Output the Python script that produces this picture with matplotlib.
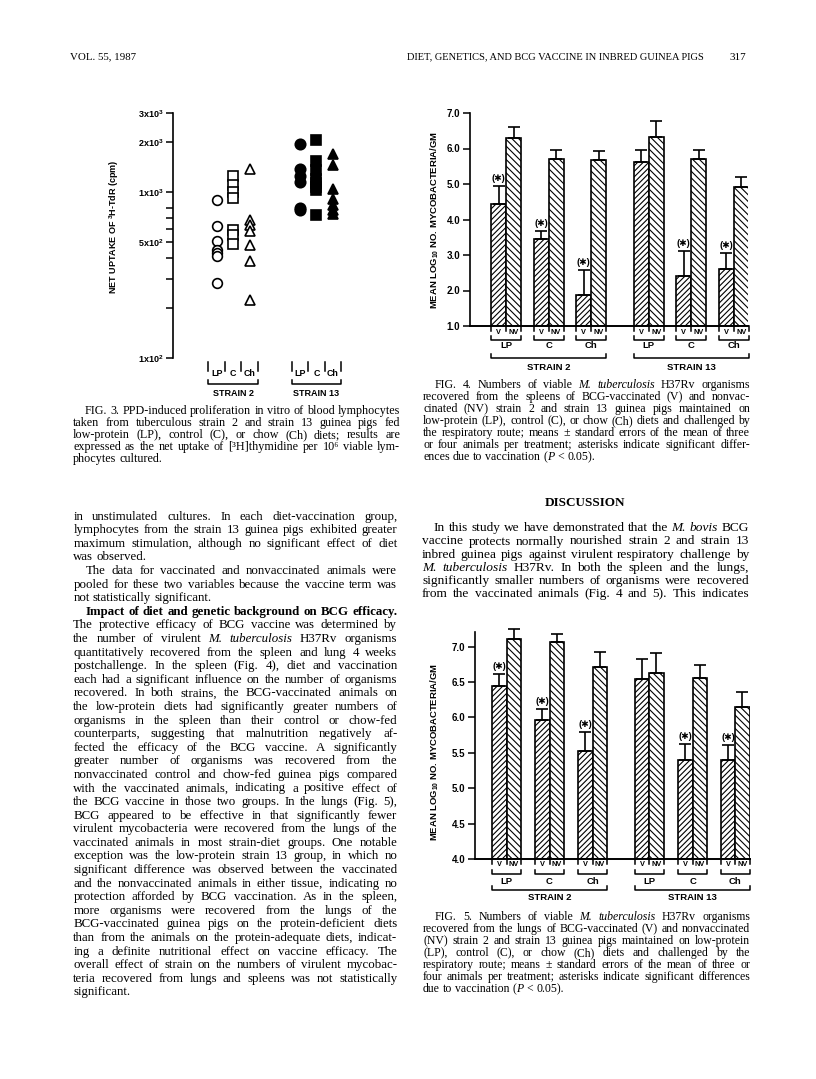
import matplotlib
matplotlib.use("Agg")
import matplotlib.pyplot as plt
from matplotlib.ticker import NullLocator

plt.rcParams['hatch.linewidth'] = 0.8
plt.rcParams['mathtext.fontset'] = 'custom'
plt.rcParams['mathtext.rm'] = 'Liberation Sans:bold'
plt.rcParams['mathtext.it'] = 'Liberation Sans:bold'
plt.rcParams['mathtext.bf'] = 'Liberation Sans:bold'

# ---- data ----
# Fig 3: net uptake of 3H-TdR (cpm)
s2_lp = [891, 621, 505, 446, 430, 415, 283]
s2_c = [1243, 1097, 1000, 920, 593, 553, 489]
s2_ch = [1382, 681, 636, 580, 477, 386, 224]
s13_lp = [1954, 1382, 1243, 1149, 801, 776]
s13_c = [2047, 1531, 1364, 1203, 1133, 1072, 1023, 723]
s13_ch = [1702, 1448, 1042, 908, 839, 783, 737]
diets = ["LP", "C", "Ch"]
strains = ["STRAIN 2", "STRAIN 13"]
fig3_ticks = [100, 200, 300, 400, 500, 600, 700, 800, 1000, 2000, 3000]
fig3_labels = {100: "1x10$^{2}$", 500: "5x10$^{2}$", 1000: "1x10$^{3}$",
               2000: "2x10$^{3}$", 3000: "3x10$^{3}$"}

# Fig 4: spleen, mean log10 mycobacteria/gm (LP, C, Ch for strain 2 then strain 13)
spleen_v = [4.43, 3.46, 1.87, 5.63, 2.42, 2.61]
spleen_v_se = [0.51, 0.22, 0.71, 0.33, 0.70, 0.44]
spleen_nv = [6.30, 5.71, 5.68, 6.32, 5.71, 4.92]
spleen_nv_se = [0.31, 0.25, 0.26, 0.45, 0.24, 0.29]

# Fig 5: lungs
lung_v = [6.45, 5.96, 5.53, 6.54, 5.40, 5.40]
lung_v_se = [0.16, 0.16, 0.27, 0.29, 0.23, 0.21]
lung_nv = [7.11, 7.07, 6.71, 6.63, 6.56, 6.15]
lung_nv_se = [0.14, 0.11, 0.21, 0.28, 0.18, 0.21]

significant = [True, True, True, False, True, True]

W, H = 816, 1079
fig = plt.figure(figsize=(W / 100, H / 100), dpi=100)
renderer = fig.canvas.get_renderer()

SANS = ["Liberation Sans", "DejaVu Sans"]
SERIF = "Liberation Serif"


def fx(px):
    return px / W


def fy(py):
    return 1 - py / H


def axes_at(left, top, right, bottom):
    return fig.add_axes([fx(left), fy(bottom), (right - left) / W, (bottom - top) / H])


def below(ax, py):
    # page pixel row -> axes fraction of that axes
    b = ax.get_position()
    bottom_px = (1 - b.y0) * H
    return (bottom_px - py) / (b.height * H)


def parse(lines):
    # ">" indent, trailing "|" ends paragraph, "_x_" italic, "^x" bold, "+" glues parts
    out = []
    for line in lines:
        indent = line.startswith(">")
        line = line.lstrip(">")
        last = line.endswith("|")
        line = line.rstrip("|")
        words = []
        for w in line.split(" "):
            parts = []
            for p in w.split("+"):
                style, weight = "normal", "normal"
                if p.startswith("_"):
                    p = p.strip("_")
                    style = "italic"
                if p.startswith("^"):
                    p = p[1:]
                    weight = "bold"
                parts.append((p, style, weight))
            words.append(parts)
        out.append((indent, last, words))
    return out


def make_words(words, y, size):
    out = []
    for parts in words:
        texts = [fig.text(0, y, p, fontsize=size, family=SERIF, style=st, weight=wt,
                          va="baseline") for p, st, wt in parts]
        widths = [t.get_window_extent(renderer).width for t in texts]
        out.append((texts, widths))
    return out


def paragraph(lines, x0, x1, y0, dy, size, indent):
    parsed = parse(lines)
    space = lambda s: s * 0.25 * 100 / 72
    # shrink the size until the tightest justified line still fits
    factor = 1.0
    for ind, last, words in parsed:
        made = make_words(words, 0, size)
        natural = sum(sum(w) for _, w in made) + space(size) * (len(words) - 1)
        target = x1 - x0 - (indent if ind else 0)
        factor = min(factor, target / natural)
        for texts, _ in made:
            for t in texts:
                t.remove()
    size = size * factor * 0.995
    for i, (ind, last, words) in enumerate(parsed):
        start = x0 + (indent if ind else 0)
        made = make_words(words, fy(y0 + i * dy + 3), size)
        total = sum(sum(w) for _, w in made)
        if last or len(made) == 1:
            gap = space(size)
        else:
            gap = (x1 - start - total) / (len(made) - 1)
        x = start
        for texts, widths in made:
            for t, wd in zip(texts, widths):
                t.set_x(fx(x))
                x += wd
            x += gap


# ---- running head ----
fig.text(fx(70), fy(57), "VOL. 55, 1987", fontsize=7.8, family=SERIF, va="center")
fig.text(fx(555), fy(57), "DIET, GENETICS, AND BCG VACCINE IN INBRED GUINEA PIGS",
         fontsize=7.5, family=SERIF, va="center", ha="center")
fig.text(fx(746), fy(57), "317", fontsize=8, family=SERIF, va="center", ha="right")

# ---- Fig 3 ----
ax3 = axes_at(173.3, 112.7, 345, 358.3)
ax3.set_yscale("log")
ax3.set_ylim(100, 3000)
ax3.set_xlim(-2.63, 7.78)
for s in ["top", "right", "bottom"]:
    ax3.spines[s].set_visible(False)
ax3.spines["left"].set_linewidth(1.2)
ax3.set_xticks([])
ax3.yaxis.set_minor_locator(NullLocator())
ax3.set_yticks(fig3_ticks)
ax3.set_yticklabels([fig3_labels.get(v, "") for v in fig3_ticks])
ax3.tick_params(axis="y", length=5, width=1.1, pad=2, labelsize=6.5)
for lab in ax3.get_yticklabels():
    lab.set_fontfamily(SANS)
    lab.set_fontweight("bold")
ax3.patch.set_alpha(0)

pos3 = [0, 1, 2, 5.05, 6.05, 7.05]
groups3 = [s2_lp, s2_c, s2_ch, s13_lp, s13_c, s13_ch]
marks = ["o", "s", "^", "o", "s", "^"]
msizes = [7, 6.5, 7.5, 7.5, 7, 7.5]
for i, vals in enumerate(groups3):
    face = "white" if i < 3 else "black"
    ax3.plot([pos3[i]] * len(vals), vals, ls="none", marker=marks[i], ms=msizes[i],
             mfc=face, mec="black", mew=1.2, clip_on=False)

tr3 = ax3.get_xaxis_transform()
for k in range(2):
    p = pos3[3 * k:3 * k + 3]
    edges = [p[0] - 0.5] + [v + 0.5 for v in p]
    for e in edges:
        ax3.plot([e, e], [below(ax3, 362), below(ax3, 371)], color="k", lw=1.1,
                 transform=tr3, clip_on=False)
    for v, d in zip(p, diets):
        ax3.text(v, below(ax3, 373.5), d, transform=tr3, ha="center", va="center",
                 fontsize=6.4, family=SANS, weight="bold")
    yb, yt = below(ax3, 384), below(ax3, 380)
    ax3.plot([edges[0], edges[0], edges[-1], edges[-1]], [yt, yb, yb, yt], color="k",
             lw=1.1, transform=tr3, clip_on=False)
    ax3.text((edges[0] + edges[-1]) / 2, below(ax3, 393), strains[k], transform=tr3,
             ha="center", va="center", fontsize=6.5, family=SANS, weight="bold")

fig.text(fx(114), fy(227), "NET UPTAKE OF $^{3}$H-TdR (cpm)", rotation=90, ha="center",
         va="center", fontsize=6.5, family=SANS, weight="bold")


# ---- bar charts ----
def base_px(ax):
    return (1 - ax.get_position().y0) * H


def bar_chart(ax, v, v_se, nv, nv_se, centers, base, labels_px):
    v_x = [c - 0.5 for c in centers]
    nv_x = [c + 0.5 for c in centers]
    ax.bar(v_x, [a - base for a in v], bottom=base, width=1, color="white",
           edgecolor="black", hatch="//////", lw=1.2, zorder=2)
    ax.bar(nv_x, [a - base for a in nv], bottom=base, width=1, color="white",
           edgecolor="black", hatch="\\\\\\\\\\", lw=1.2, zorder=2)
    ax.errorbar(v_x, v, yerr=[[0] * len(v), v_se], fmt="none", ecolor="k",
                elinewidth=1.2, capsize=4.5, capthick=1.2, zorder=3, clip_on=False)
    ax.errorbar(nv_x, nv, yerr=[[0] * len(nv), nv_se], fmt="none", ecolor="k",
                elinewidth=1.2, capsize=4.5, capthick=1.2, zorder=3, clip_on=False)
    for x, top, se, sig in zip(v_x, v, v_se, significant):
        if sig:
            ax.annotate("(\u2731)", (x, top + se), xytext=(0, 2), textcoords="offset points",
                        ha="center", va="bottom", fontsize=6.5, family=SANS,
                        weight="bold")
    for s in ["top", "right"]:
        ax.spines[s].set_visible(False)
    ax.spines["left"].set_linewidth(1.2)
    ax.spines["bottom"].set_linewidth(1.4)
    ax.set_xticks([])
    ax.tick_params(axis="y", length=5, width=1.1, pad=2, labelsize=7)
    for lab in ax.get_yticklabels():
        lab.set_fontfamily(SANS)
        lab.set_fontweight("bold")
    ax.patch.set_alpha(0)

    tr = ax.get_xaxis_transform()
    t_vnv, b_top, b_bot, t_grp, s_top, s_bot, t_str = labels_px
    for c, d in zip(centers, diets * 2):
        for e in [c - 1, c, c + 1]:
            ax.plot([e, e], [0, below(ax, base_px(ax) + 5)], color="k", lw=1.1,
                    transform=tr, clip_on=False)
        ax.text(c - 0.5, below(ax, t_vnv), "V", transform=tr, ha="center", va="center",
                fontsize=5.3, family=SANS, weight="bold")
        ax.text(c + 0.5, below(ax, t_vnv), "NV", transform=tr, ha="center",
                va="center", fontsize=5.3, family=SANS, weight="bold")
        yb, yt = below(ax, b_bot), below(ax, b_top)
        ax.plot([c - 1, c - 1, c + 1, c + 1], [yt, yb, yb, yt], color="k", lw=1.1,
                transform=tr, clip_on=False)
        ax.text(c, below(ax, t_grp), d, transform=tr, ha="center", va="center",
                fontsize=6.8, family=SANS, weight="bold")
    for k in range(2):
        left, right = centers[3 * k] - 1, centers[3 * k + 2] + 1
        yb, yt = below(ax, s_bot), below(ax, s_top)
        ax.plot([left, left, right, right], [yt, yb, yb, yt], color="k", lw=1.1,
                transform=tr, clip_on=False)
        ax.text((left + right) / 2, below(ax, t_str), strains[k], transform=tr,
                ha="center", va="center", fontsize=6.8, family=SANS, weight="bold")


ax4 = axes_at(470, 113, 748, 326)
ax4.set_ylim(1.0, 7.0)
ax4.set_xlim(-2.4, 16.13)
ax4.set_yticks([1, 2, 3, 4, 5, 6, 7])
ax4.set_yticklabels(["%.1f" % t for t in [1, 2, 3, 4, 5, 6, 7]])
centers4 = [0, 2.84, 5.68, 9.51, 12.35, 15.19]
bar_chart(ax4, spleen_v, spleen_v_se, spleen_nv, spleen_nv_se, centers4, 1.0,
          (332, 336, 340, 346, 354, 358, 367))
fig.text(fx(435), fy(220), "MEAN LOG$_{10}$ NO. MYCOBACTERIA/GM", rotation=90,
         ha="center", va="center", fontsize=6.8, family=SANS, weight="bold")

ax5 = axes_at(475, 631.7, 750, 859)
ax5.set_ylim(4.0, 7.21)
ax5.set_xlim(-2.19, 16.78)
ticks5 = [4.0, 4.5, 5.0, 5.5, 6.0, 6.5, 7.0]
ax5.set_yticks(ticks5)
ax5.set_yticklabels(["%.1f" % t for t in ticks5])
centers5 = [0, 2.95, 5.93, 9.83, 12.82, 15.76]
bar_chart(ax5, lung_v, lung_v_se, lung_nv, lung_nv_se, centers5, 4.0,
          (865, 870, 874, 881, 886, 890, 898))
fig.text(fx(435), fy(752), "MEAN LOG$_{10}$ NO. MYCOBACTERIA/GM", rotation=90,
         ha="center", va="center", fontsize=6.8, family=SANS, weight="bold")

# ---- captions and body text ----
cap3 = [
    ">FIG. 3. PPD-induced proliferation in vitro of blood lymphocytes",
    "taken from tuberculous strain 2 and strain 13 guinea pigs fed",
    "low-protein (LP), control (C), or chow (Ch) diets; results are",
    "expressed as the net uptake of [\u00b3H]thymidine per 10\u2076 viable lym-",
    "phocytes cultured.|",
]
paragraph(cap3, 73, 400, 411, 12.1, 9.5, 12)

cap4 = [
    ">FIG. 4. Numbers of viable _M._ _tuberculosis_ H37Rv organisms",
    "recovered from the spleens of BCG-vaccinated (V) and nonvac-",
    "cinated (NV) strain 2 and strain 13 guinea pigs maintained on",
    "low-protein (LP), control (C), or chow (Ch) diets and challenged by",
    "the respiratory route; means \u00b1 standard errors of the mean of three",
    "or four animals per treatment; asterisks indicate significant differ-",
    "ences due to vaccination (+_P_ < 0.05).|",
]
paragraph(cap4, 423, 750, 385, 12.0, 9.5, 12)

cap5 = [
    ">FIG. 5. Numbers of viable _M._ _tuberculosis_ H37Rv organisms",
    "recovered from the lungs of BCG-vaccinated (V) and nonvaccinated",
    "(NV) strain 2 and strain 13 guinea pigs maintained on low-protein",
    "(LP), control (C), or chow (Ch) diets and challenged by the",
    "respiratory route; means \u00b1 standard errors of the mean of three or",
    "four animals per treatment; asterisks indicate significant differences",
    "due to vaccination (+_P_ < 0.05).|",
]
paragraph(cap5, 423, 750, 917, 12.0, 9.5, 12)

body = [
    "in unstimulated cultures. In each diet-vaccination group,",
    "lymphocytes from the strain 13 guinea pigs exhibited greater",
    "maximum stimulation, although no significant effect of diet",
    "was observed.|",
    ">The data for vaccinated and nonvaccinated animals were",
    "pooled for these two variables because the vaccine term was",
    "not statistically significant.|",
    ">^Impact ^of ^diet ^and ^genetic ^background ^on ^BCG ^efficacy.",
    "The protective efficacy of BCG vaccine was determined by",
    "the number of virulent _M._ _tuberculosis_ H37Rv organisms",
    "quantitatively recovered from the spleen and lung 4 weeks",
    "postchallenge. In the spleen (Fig. 4), diet and vaccination",
    "each had a significant influence on the number of organisms",
    "recovered. In both strains, the BCG-vaccinated animals on",
    "the low-protein diets had significantly greater numbers of",
    "organisms in the spleen than their control or chow-fed",
    "counterparts, suggesting that malnutrition negatively af-",
    "fected the efficacy of the BCG vaccine. A significantly",
    "greater number of organisms was recovered from the",
    "nonvaccinated control and chow-fed guinea pigs compared",
    "with the vaccinated animals, indicating a positive effect of",
    "the BCG vaccine in those two groups. In the lungs (Fig. 5),",
    "BCG appeared to be effective in that significantly fewer",
    "virulent mycobacteria were recovered from the lungs of the",
    "vaccinated animals in most strain-diet groups. One notable",
    "exception was the low-protein strain 13 group, in which no",
    "significant difference was observed between the vaccinated",
    "and the nonvaccinated animals in either tissue, indicating no",
    "protection afforded by BCG vaccination. As in the spleen,",
    "more organisms were recovered from the lungs of the",
    "BCG-vaccinated guinea pigs on the protein-deficient diets",
    "than from the animals on the protein-adequate diets, indicat-",
    "ing a definite nutritional effect on vaccine efficacy. The",
    "overall effect of strain on the numbers of virulent mycobac-",
    "teria recovered from lungs and spleens was not statistically",
    "significant.|",
]
paragraph(body, 73.3, 397.3, 516.7, 13.59, 10.5, 12.5)

fig.text(fx(585), fy(503.3), "DISCUSSION", ha="center", va="center", fontsize=9.5,
         family=SERIF, weight="bold")
disc = [
    ">In this study we have demonstrated that the _M._ _bovis_ BCG",
    "vaccine protects normally nourished strain 2 and strain 13",
    "inbred guinea pigs against virulent respiratory challenge by",
    "_M._ _tuberculosis_ H37Rv. In both the spleen and the lungs,",
    "significantly smaller numbers of organisms were recovered",
    "from the vaccinated animals (Fig. 4 and 5). This indicates",
]
paragraph(disc, 422, 749, 528.3, 13.2, 10.5, 12)

fig.savefig("out.png", dpi=100, facecolor="white")
